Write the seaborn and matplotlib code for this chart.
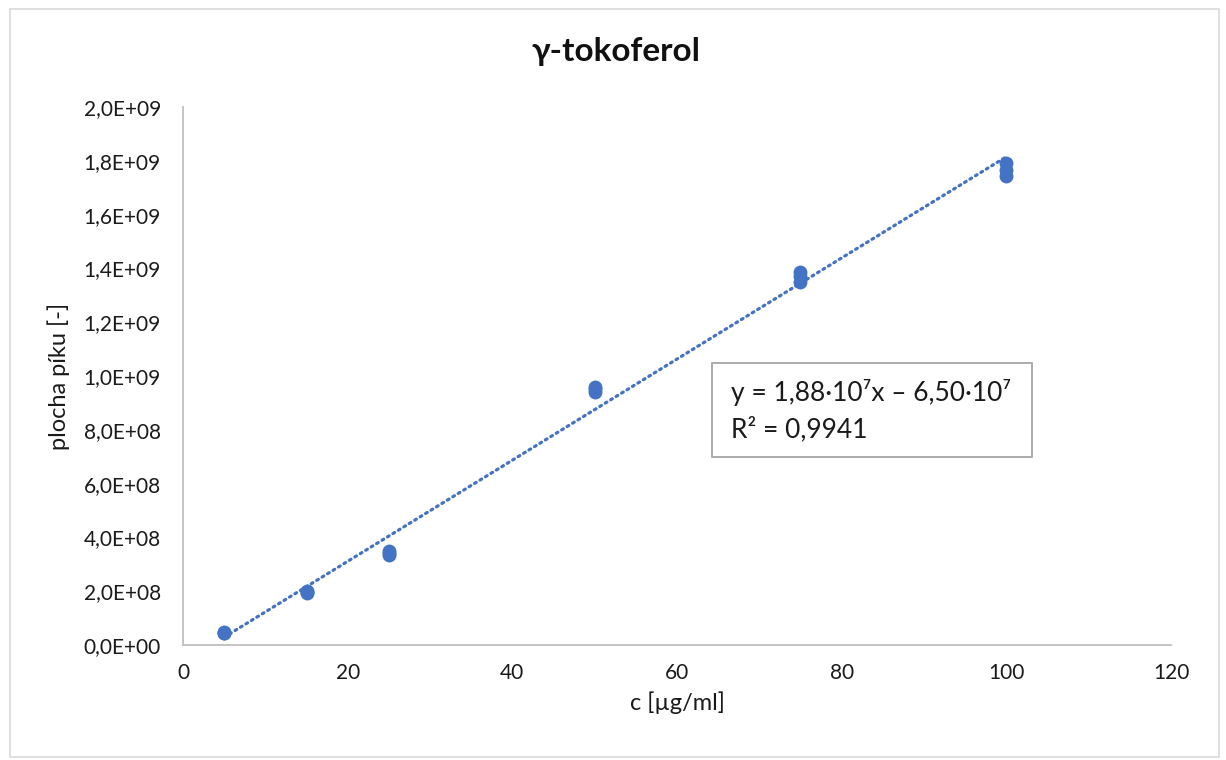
import matplotlib
matplotlib.use("Agg")
import matplotlib.pyplot as plt
import seaborn as sns
import numpy as np
import pandas as pd
from matplotlib.patches import Rectangle
from matplotlib.ticker import FuncFormatter, MultipleLocator

# Calibration data: concentration [µg/ml] and peak area (three injections each)
conc = [5, 5, 5, 15, 15, 15, 25, 25, 25, 50, 50, 50, 75, 75, 75, 100, 100, 100]
area = [4.3e7, 4.6e7, 4.9e7,
        1.95e8, 1.98e8, 2.00e8,
        3.35e8, 3.42e8, 3.50e8,
        9.40e8, 9.50e8, 9.60e8,
        1.350e9, 1.370e9, 1.385e9,
        1.745e9, 1.765e9, 1.790e9]

# Linear trendline parameters
slope = 1.88e7
intercept = -6.50e7
r2 = 0.9941

title = "γ-tokoferol"
xlabel = "c [µg/ml]"
ylabel = "plocha píku [-]"

sns.set_theme(style="white")
plt.rcParams["font.family"] = ["Lato", "DejaVu Sans"]

W, H = 1226, 760
fig = plt.figure(figsize=(W / 100, H / 100), dpi=100)
fig.patch.set_facecolor("white")
fig.patches.append(Rectangle((10 / W, 3 / H), 1209 / W, 748 / H, transform=fig.transFigure,
                             fill=False, edgecolor="#d9d9d9", linewidth=1.2))

ax = fig.add_axes([183 / W, 1 - 645 / H, (1171 - 183) / W, (645 - 107) / H])

blue = "#4472C4"
df = pd.DataFrame({"c": conc, "A": area})

# trendline over the measured concentration range
xl = np.array([min(conc), max(conc)], dtype=float)
ax.plot(xl, slope * xl + intercept, color=blue, linestyle=(0, (0.6, 1.4)),
        linewidth=2.3, dash_capstyle="round", zorder=2)

sns.scatterplot(data=df, x="c", y="A", ax=ax, color=blue, s=100, edgecolor=blue,
                linewidth=0, zorder=3)

ax.set_xlim(0, 120)
ax.set_ylim(0, 2.0e9)
ax.xaxis.set_major_locator(MultipleLocator(20))
ax.yaxis.set_major_locator(MultipleLocator(2e8))


def sci_comma(v, pos):
    if v == 0:
        return "0,0E+00"
    exp = int(np.floor(np.log10(abs(v)) + 1e-9))
    mant = v / 10 ** exp
    return f"{mant:.1f}".replace(".", ",") + f"E+{exp:02d}"


ax.yaxis.set_major_formatter(FuncFormatter(sci_comma))

for side in ["top", "right"]:
    ax.spines[side].set_visible(False)
for side in ["left", "bottom"]:
    ax.spines[side].set_color("#bfbfbf")
    ax.spines[side].set_linewidth(1.3)

ax.tick_params(axis="both", which="major", direction="out", length=6, width=1.3,
               color="#bfbfbf", labelsize=15, labelcolor="#1a1a1a")
ax.tick_params(axis="y", pad=10)
ax.tick_params(axis="x", pad=7)

ax.set_xlabel(xlabel, fontsize=17, color="#1a1a1a", labelpad=6)
ax.set_ylabel(ylabel, fontsize=17, color="#1a1a1a", labelpad=10)
fig.text(616 / W, 1 - 52 / H, title, ha="center", va="center",
         fontsize=24, fontweight="bold", color="#111111")

# equation box
fig.patches.append(Rectangle((712 / W, 1 - 457 / H), (1032 - 712) / W, (457 - 363) / H,
                             transform=fig.transFigure, facecolor="white",
                             edgecolor="#a6a6a6", linewidth=1.3, zorder=5))
eq1 = "y = 1,88·10⁷x – 6,50·10⁷"
eq2 = "R² = " + f"{r2:.4f}".replace(".", ",")
fig.text(731 / W, 1 - 393 / H, eq1, ha="left", va="center", fontsize=19,
         color="#1a1a1a", zorder=6)
fig.text(731 / W, 1 - 429 / H, eq2, ha="left", va="center", fontsize=19,
         color="#1a1a1a", zorder=6)

fig.savefig("out.png", dpi=100, facecolor="white")
